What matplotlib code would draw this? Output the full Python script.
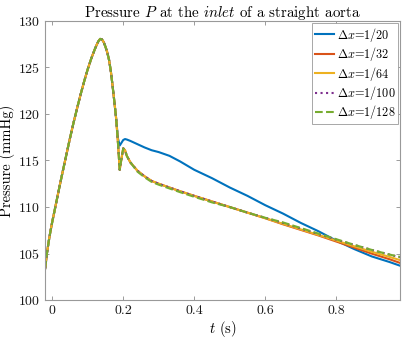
import matplotlib
matplotlib.use('Agg')
import matplotlib.pyplot as plt
import numpy as np

plt.rcParams['font.family'] = ['cmr10', 'DejaVu Serif']
plt.rcParams['mathtext.fontset'] = 'cm'
plt.rcParams['axes.formatter.use_mathtext'] = True
plt.rcParams['axes.unicode_minus'] = False

# common upstroke (all resolutions overlap here)
t_rise = [-0.02, -0.015, -0.01, -0.005, 0.0, 0.01, 0.02, 0.03, 0.04, 0.05, 0.06, 0.07, 0.08,
          0.09, 0.10, 0.11, 0.12, 0.125, 0.13, 0.135, 0.14, 0.145, 0.15, 0.155, 0.16,
          0.165, 0.17, 0.175, 0.18]
p_rise = [103.4, 105.0, 106.3, 107.4, 108.4, 110.25, 112.1, 113.9, 115.65, 117.4, 119.05, 120.6, 122.1,
          123.5, 124.8, 125.95, 126.95, 127.4, 127.8, 128.05, 128.0, 127.7, 127.2, 126.6, 125.8,
          124.6, 123.0, 121.3, 119.5]

t_tail = [0.185, 0.19, 0.195, 0.20, 0.205, 0.21, 0.22, 0.24, 0.26, 0.28, 0.30, 0.33, 0.36,
          0.40, 0.45, 0.50, 0.55, 0.60, 0.65, 0.70, 0.75, 0.80, 0.85, 0.90, 0.95, 0.98]

p_20 = [117.4, 116.6, 116.9, 117.2, 117.3, 117.25, 117.1, 116.75, 116.4, 116.1, 115.9, 115.5, 114.9,
        114.0, 113.1, 112.1, 111.2, 110.2, 109.3, 108.3, 107.4, 106.4, 105.5, 104.7, 104.1, 103.7]
p_32 = [117.0, 114.0, 115.2, 116.3, 116.1, 115.5, 114.8, 113.9, 113.3, 112.8, 112.5, 112.1, 111.7,
        111.2, 110.6, 110.0, 109.4, 108.8, 108.15, 107.55, 106.95, 106.3, 105.65, 105.0, 104.4, 104.0]
p_64 = [117.0, 114.0, 115.2, 116.3, 116.1, 115.5, 114.8, 113.9, 113.3, 112.8, 112.5, 112.1, 111.7,
        111.2, 110.6, 110.0, 109.4, 108.8, 108.2, 107.6, 107.0, 106.4, 105.8, 105.2, 104.65, 104.3]
p_100 = [117.0, 114.0, 115.2, 116.3, 116.1, 115.5, 114.8, 113.9, 113.3, 112.8, 112.5, 112.1, 111.7,
         111.2, 110.6, 110.0, 109.4, 108.85, 108.3, 107.7, 107.1, 106.5, 105.95, 105.4, 104.9, 104.6]
p_128 = [117.0, 114.0, 115.2, 116.3, 116.1, 115.5, 114.8, 113.8, 113.2, 112.7, 112.4, 112.0, 111.6,
         111.1, 110.5, 110.0, 109.4, 108.85, 108.35, 107.75, 107.15, 106.55, 105.95, 105.4, 104.9, 104.65]

labels = [r'$\Delta x$=1/20', r'$\Delta x$=1/32', r'$\Delta x$=1/64',
          r'$\Delta x$=1/100', r'$\Delta x$=1/128']
series = [p_20, p_32, p_64, p_100, p_128]
colors = ['#0072BD', '#D95319', '#EDB120', '#7E2F8E', '#77AC30']
styles = ['-', '-', '-', ':', '--']

xticks = [0, 0.2, 0.4, 0.6, 0.8]
xtick_labels = ['0', '0.2', '0.4', '0.6', '0.8']
yticks = [100, 105, 110, 115, 120, 125, 130]

fig = plt.figure(figsize=(4.03, 3.40), dpi=100)
ax = fig.add_axes([0.112, 0.117, 0.881, 0.822])

t = np.array(t_rise + t_tail)
for p, c, ls, lab in zip(series, colors, styles, labels):
    ax.plot(t, np.array(p_rise + p), color=c, linestyle=ls, linewidth=1.5, label=lab)

ax.set_xlim(-0.02, 0.98)
ax.set_ylim(100, 130)
ax.set_xticks(xticks)
ax.set_xticklabels(xtick_labels)
ax.set_yticks(yticks)
ax.tick_params(direction='in', length=3, width=0.6, color='0.55', labelsize=10,
               labelcolor='0.1', top=True, right=True)
for s in ax.spines.values():
    s.set_color('0.6')
    s.set_linewidth(0.8)

ax.set_title(r'Pressure $P$ at the $\mathit{inlet}$ of a straight aorta', fontsize=10.8, pad=3)
ax.set_xlabel(r'$t$ (s)', fontsize=10.5, labelpad=1)
ax.set_ylabel('Pressure (mmHg)', fontsize=10.5, labelpad=2)

leg = ax.legend(loc='upper right', fontsize=8.8, fancybox=False, framealpha=1,
                edgecolor='0.6', handlelength=1.6, handletextpad=0.2,
                labelspacing=0.12, borderpad=0.2, borderaxespad=0.2)
leg.get_frame().set_linewidth(0.6)

fig.savefig('out.png', dpi=100)
